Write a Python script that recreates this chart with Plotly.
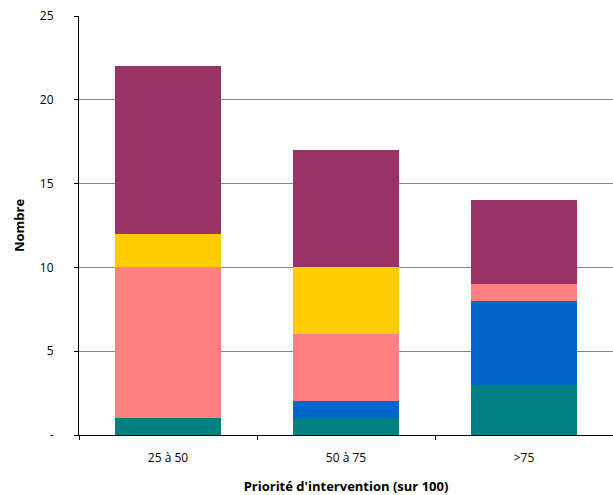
import plotly.graph_objects as go

categories = ["25 à 50", "50 à 75", ">75"]
series_names = ["Série 1", "Série 2", "Série 3", "Série 4", "Série 5"]
teal = [1, 1, 3]
blue = [0, 1, 5]
pink = [9, 4, 1]
yellow = [2, 4, 0]
purple = [10, 7, 5]
colors = ["#008080", "#0066CC", "#FF8080", "#FFCC00", "#993366"]
y_tickvals = [0, 5, 10, 15, 20, 25]
y_ticktext = ["-", "5", "10", "15", "20", "25"]

xpos = list(range(len(categories)))
fig = go.Figure()
for name, vals, col in zip(series_names, [teal, blue, pink, yellow, purple], colors):
    fig.add_trace(go.Bar(x=xpos, y=vals, name=name, marker=dict(color=col, line=dict(width=0)),
                         width=0.59))

font = "Open Sans, Noto Sans, Liberation Sans, sans-serif"
fig.update_layout(
    barmode="stack",
    width=613, height=495,
    margin=dict(l=79, r=0, t=16, b=60),
    plot_bgcolor="white", paper_bgcolor="white",
    showlegend=False,
    font=dict(family=font, size=11, color="black"),
    xaxis=dict(
        range=[-0.5, 2.5],
        automargin=False,
        tickvals=xpos, ticktext=categories, ticks="",
        showgrid=False, zeroline=False,
        showline=True, linecolor="black", linewidth=1,
        tickfont=dict(size=12),
        ticklabelstandoff=12,
        minor=dict(tick0=-0.5, dtick=1, ticks="outside", ticklen=4, tickcolor="black", showgrid=False),
        title=dict(text="<b>Priorité d'intervention (sur 100)</b>", font=dict(size=13), standoff=20),
    ),
    yaxis=dict(
        range=[0, 25],
        automargin=False,
        tickvals=y_tickvals, ticktext=y_ticktext,
        ticks="outside", ticklen=4, tickcolor="black",
        showgrid=True, gridcolor="#868686", gridwidth=1,
        zeroline=False,
        showline=True, linecolor="black", linewidth=1,
        tickfont=dict(size=12),
        ticklabelstandoff=18,
        title=dict(text="<b>Nombre</b>", font=dict(size=13), standoff=12),
    ),
)
fig.write_html("out.html")
